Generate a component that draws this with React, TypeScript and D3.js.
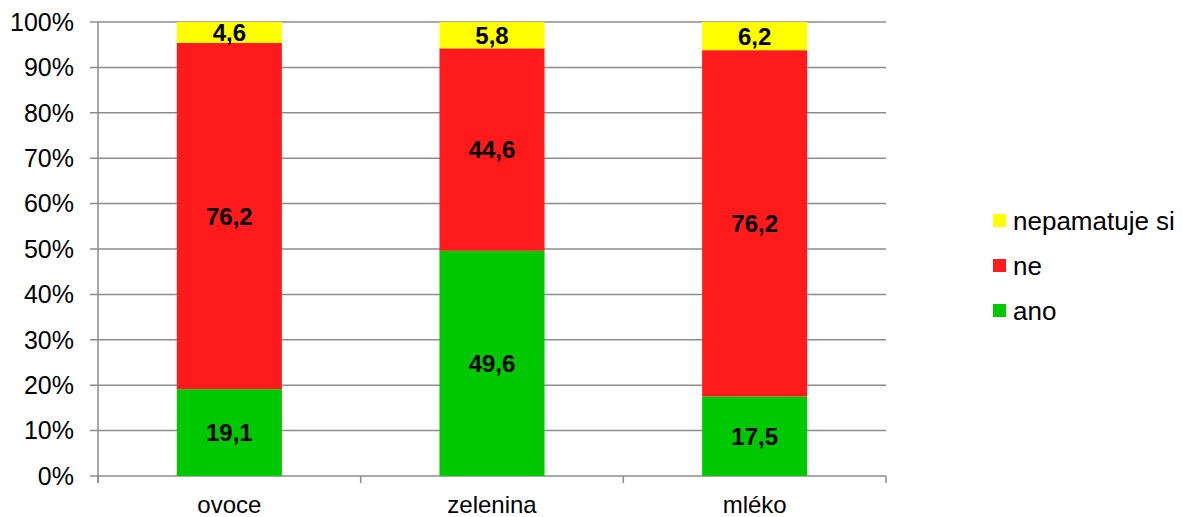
import React from "react";
import * as d3 from "d3";

const categories = ["ovoce", "zelenina", "mléko"];
const seriesNames = ["ano", "ne", "nepamatuje si"];
const ano = [19.1, 49.6, 17.5];
const ne = [76.2, 44.6, 76.2];
const nepamatuje = [4.6, 5.8, 6.2];
const colors = ["#00C800", "#FF1B1B", "#FFFF00"];
const yTicks = [0, 0.1, 0.2, 0.3, 0.4, 0.5, 0.6, 0.7, 0.8, 0.9, 1];

const W = 1182;
const H = 517;
const left = 98;
const right = 886;
const top = 22;
const bottom = 476;

export default function App() {
  const rows = categories.map((c, i) => ({
    cat: c,
    ano: ano[i],
    ne: ne[i],
    "nepamatuje si": nepamatuje[i],
  }));
  const stack = d3.stack<any>().keys(seriesNames).offset(d3.stackOffsetExpand);
  const series = stack(rows);
  const x = d3.scaleBand().domain(categories).range([left, right]).paddingInner(0.6).paddingOuter(0.3);
  const xEdges = d3.scaleLinear().domain([0, categories.length]).range([left, right]);
  const y = d3.scaleLinear().domain([0, 1]).range([bottom, top]);
  const font = "Liberation Sans, Arial, sans-serif";
  const gridColor = "#8c8c8c";
  const legendItems = [...seriesNames].reverse();
  const legendY = [221, 266, 311];

  return (
    <svg width={W} height={H} style={{ position: "absolute", left: 0, top: 0 }} fontFamily={font}>
      <rect x={0} y={0} width={W} height={H} fill="#fff" />
      {yTicks.map((t) => (
        <g key={t}>
          <line x1={left - 8} x2={right} y1={y(t)} y2={y(t)} stroke={gridColor} strokeWidth={1.5} />
          <text x={74} y={y(t)} dy="0.35em" textAnchor="end" fontSize={25} fill="#000">
            {Math.round(t * 100) + "%"}
          </text>
        </g>
      ))}
      <line x1={left} x2={left} y1={top} y2={bottom + 7} stroke={gridColor} strokeWidth={1.5} />
      {d3.range(categories.length + 1).map((i) => (
        <line key={i} x1={xEdges(i)} x2={xEdges(i)} y1={bottom} y2={bottom + 7} stroke={gridColor} strokeWidth={1.5} />
      ))}
      {series.map((s, si) => (
        <g key={s.key}>
          {s.map((d, i) => (
            <rect
              key={i}
              x={x(categories[i])!}
              width={x.bandwidth()}
              y={y(d[1])}
              height={y(d[0]) - y(d[1])}
              fill={colors[si]}
            />
          ))}
        </g>
      ))}
      {series.map((s, si) => (
        <g key={"l" + s.key}>
          {s.map((d, i) => {
            const v = [ano, ne, nepamatuje][si][i];
            return (
              <text
                key={i}
                x={x(categories[i])! + x.bandwidth() / 2}
                y={(y(d[0]) + y(d[1])) / 2}
                dy="0.36em"
                textAnchor="middle"
                fontSize={24}
                fontWeight="bold"
                fill="#000"
              >
                {v.toFixed(1).replace(".", ",")}
              </text>
            );
          })}
        </g>
      ))}
      {categories.map((c) => (
        <text key={c} x={x(c)! + x.bandwidth() / 2} y={513} textAnchor="middle" fontSize={24} fill="#000">
          {c}
        </text>
      ))}
      {legendItems.map((name, i) => (
        <g key={name}>
          <rect x={993} y={legendY[i] - 7} width={13} height={13} fill={colors[seriesNames.indexOf(name)]} />
          <text x={1013} y={legendY[i]} dy="0.35em" fontSize={26} fill="#000">
            {name}
          </text>
        </g>
      ))}
    </svg>
  );
}
